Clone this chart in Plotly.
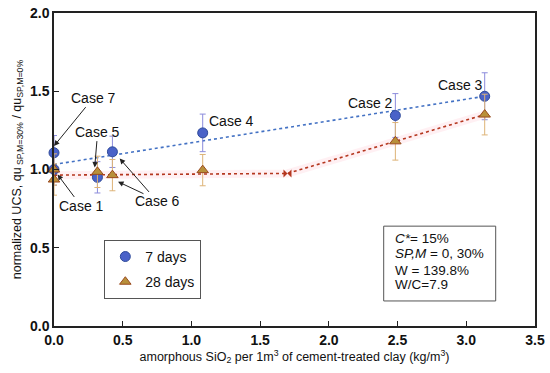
import plotly.graph_objects as go

# ---- data ----
x7 = [0.0, 0.0, 0.316, 0.425, 1.082, 2.484, 3.134]
y7 = [1.0, 1.107, 0.95, 1.113, 1.234, 1.345, 1.468]
e7 = [0.1, 0.11, 0.1, 0.1, 0.12, 0.14, 0.15]

x28 = [0.0, 0.0, 0.316, 0.425, 1.082, 2.484, 3.134]
y28 = [1.0, 0.936, 0.985, 0.964, 0.996, 1.18, 1.351]
e28 = [0.1, 0.1, 0.1, 0.1, 0.1, 0.12, 0.13]

fit7_x = [0.0, 3.134]
fit7_y = [1.032, 1.468]

fit28_x = [0.0, 1.699, 2.484, 3.134]
fit28_y = [0.964, 0.975, 1.18, 1.351]
bend_x = [1.699]
bend_y = [0.975]

case_labels = ["Case 7", "Case 5", "Case 1", "Case 6", "Case 4", "Case 2", "Case 3"]
case_tx = [0.287, 0.318, 0.199, 0.752, 1.295, 2.306, 2.958]
case_ty = [1.459, 1.242, 0.764, 0.796, 1.311, 1.426, 1.543]
# arrow head for each label (None = no arrow)
case_hx = [0.0, 0.296, 0.026, 0.478, None, None, None]
case_hy = [1.15, 1.013, 0.968, 1.07, None, None, None]
# extra arrow from Case 6 label
extra_arrow = (0.752, 0.796, 0.466, 0.922)

info_lines = ["<i>C*</i>= 15%", "<i>SP,M</i> = 0, 30%", "W = 139.8%", "W/C=7.9"]
info_y = [0.558, 0.464, 0.357, 0.266]

FONT = "Arial, Liberation Sans, sans-serif"

fig = go.Figure()

# faint glow behind red fit line
fig.add_trace(go.Scatter(x=fit28_x, y=fit28_y, mode="lines",
                         line=dict(color="rgba(255,130,160,0.12)", width=8),
                         showlegend=False, hoverinfo="skip"))
fig.add_trace(go.Scatter(x=fit7_x, y=fit7_y, mode="lines",
                         line=dict(color="#4472C4", width=1.6, dash="dot"),
                         showlegend=False))
fig.add_trace(go.Scatter(x=fit28_x, y=fit28_y, mode="lines",
                         line=dict(color="#B5371F", width=1.6, dash="dot"),
                         showlegend=False))
fig.add_trace(go.Scatter(x=bend_x, y=bend_y, mode="markers",
                         marker=dict(symbol="bowtie", color="#B5371F", size=8),
                         showlegend=False))

fig.add_trace(go.Scatter(
    x=x7, y=y7, mode="markers", name="7 days", legendgroup="a", cliponaxis=False,
    marker=dict(symbol="circle", size=10, color="#4A62C8",
                line=dict(color="#2F4B9A", width=1)),
    error_y=dict(type="data", array=e7, color="#8C8CDC", thickness=1, width=3)))
fig.add_trace(go.Scatter(
    x=x28, y=y28, mode="markers", name="28 days", legendgroup="b", cliponaxis=False,
    marker=dict(symbol="triangle-up", size=10, color="#B8903A",
                line=dict(color="#9A4A1E", width=1)),
    error_y=dict(type="data", array=e28, color="#DDB377", thickness=1, width=3)))

annotations = []
for t, tx, ty, hx, hy in zip(case_labels, case_tx, case_ty, case_hx, case_hy):
    a = dict(xref="x", yref="y", text=t, font=dict(size=14, color="#111", family=FONT))
    if hx is None:
        a.update(x=tx, y=ty, showarrow=False)
    else:
        a.update(x=hx, y=hy, ax=tx, ay=ty, axref="x", ayref="y", showarrow=True,
                 arrowhead=2, arrowsize=1.1, arrowwidth=1, arrowcolor="#222")
    annotations.append(a)
ex_tx, ex_ty, ex_hx, ex_hy = extra_arrow
annotations.append(dict(x=ex_hx, y=ex_hy, ax=ex_tx - 0.09, ay=ex_ty + 0.045,
                        xref="x", yref="y", axref="x", ayref="y", text="",
                        showarrow=True, arrowhead=2, arrowsize=1.1, arrowwidth=1,
                        arrowcolor="#222"))
for t, ty in zip(info_lines, info_y):
    annotations.append(dict(x=2.468, y=ty, xref="x", yref="y", text=t, xanchor="left",
                            showarrow=False, font=dict(size=13.5, color="#111", family=FONT)))

shapes = [dict(type="rect", xref="x", yref="y", x0=2.399, x1=3.214, y0=0.16, y1=0.638,
               line=dict(color="#555", width=1), fillcolor="white", layer="below")]

fig.update_layout(
    width=550, height=373,
    margin=dict(l=54, r=15, t=13, b=47),
    paper_bgcolor="white", plot_bgcolor="white",
    font=dict(family=FONT, color="#111"),
    showlegend=True,
    legend=dict(x=0.1046, y=0.275, xanchor="left", yanchor="top",
                bordercolor="#555", borderwidth=1, bgcolor="white",
                font=dict(size=14, family=FONT), tracegroupgap=4,
                itemwidth=30),
    annotations=annotations,
    shapes=shapes,
    xaxis=dict(range=[0, 3.5], dtick=0.5, tickformat=".1f", showgrid=False, zeroline=False,
               showline=True, mirror=True, linecolor="#222", linewidth=1.5,
               ticks="inside", ticklen=5, tickcolor="#222", automargin=False,
               ticklabeloverflow="allow",
               tickfont=dict(size=14, family=FONT, weight="bold"),
               title=dict(text="amorphous SiO<sub>2</sub> per 1m<sup>3</sup> of cement-treated clay (kg/m<sup>3</sup>)",
                          font=dict(size=12.5, family=FONT), standoff=4)),
    yaxis=dict(range=[0, 2], dtick=0.5, tickformat=".1f", showgrid=False, zeroline=False,
               showline=True, mirror=True, linecolor="#222", linewidth=1.5,
               ticks="inside", ticklen=5, tickcolor="#222", automargin=False,
               ticklabeloverflow="allow",
               tickfont=dict(size=14, family=FONT, weight="bold"),
               title=dict(text="normalized UCS, qu<sub> SP,M=30%</sub> / qu<sub>SP,M=0%</sub>",
                          font=dict(size=12.5, family=FONT), standoff=6)),
)

# remove the browser's default 8px page margin so the figure sits at the window origin
fig.write_html("out.html",
               config={"displayModeBar": False},
               post_script="document.body.style.margin='0';document.body.style.overflow='hidden';")
